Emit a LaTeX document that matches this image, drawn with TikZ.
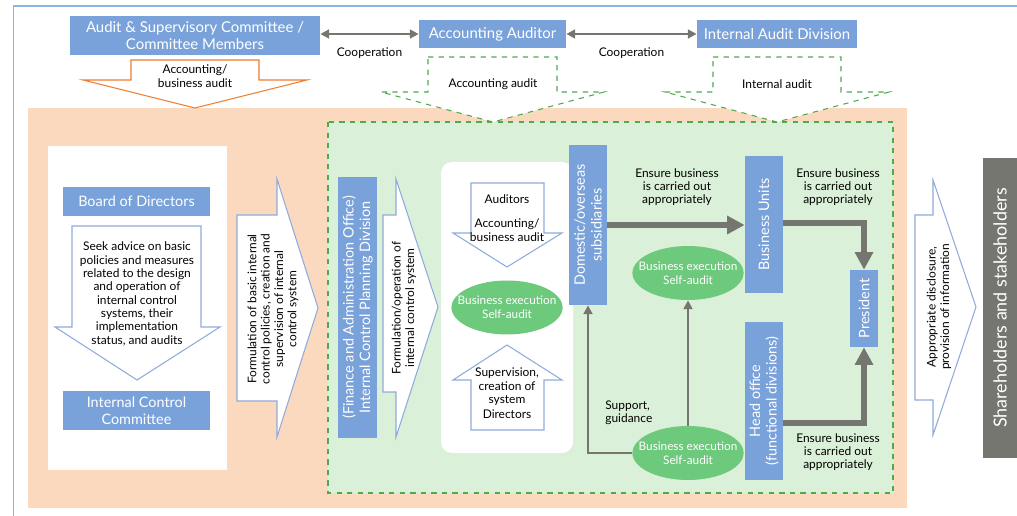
\documentclass[tikz,border=0pt]{standalone}
\usepackage{fontspec}
\setmainfont{Lato}
\usetikzlibrary{positioning, arrows.meta, shapes.geometric, calc}
\definecolor{icblue}{HTML}{7AA2DA}
\definecolor{icline}{HTML}{8FAADC}
\definecolor{icorange}{HTML}{FBD9BE}
\definecolor{icgreen}{HTML}{DAF0D8}
\definecolor{icdash}{HTML}{4FAA4F}
\definecolor{icell}{HTML}{6DC97B}
\definecolor{icgrey}{HTML}{767670}
\definecolor{icred}{HTML}{ED7D31}
\definecolor{icframe}{HTML}{8DB3E2}

\begin{document}
\begin{tikzpicture}[
    x=0.02cm, y=-0.02cm,
    every node/.style={font=\fontsize{6.8}{7.6}\selectfont, inner sep=0pt},
    bbox/.style={fill=icblue, text=white, align=center,
                 font=\fontsize{8.2}{9.4}\selectfont},
    lbl/.style={align=center},
    selfaudit/.style={ellipse, fill=icell, text=white, align=center,
                      inner xsep=-0.2cm, inner ysep=0pt,
                      font=\fontsize{6.7}{7.8}\selectfont,
                      minimum width=2.18cm, minimum height=1.08cm},
    blkarrow/.style={draw=icline, fill=white, line width=0.6pt},
    coop/.style={{Triangle[length=5pt,width=5pt]}-{Triangle[length=5pt,width=5pt]},
                 draw=icgrey, line width=1.6pt},
    flow/.style={-{Triangle[length=10pt,width=10pt]}, draw=icgrey, line width=3.4pt},
    support/.style={-{Triangle[length=5pt,width=5pt]}, draw=icgrey, line width=1.6pt},
  ]
  \useasboundingbox (0,0) rectangle (1017,516);
  \draw[icframe, line width=1pt] (13.5,516) -- (13.5,6) -- (1017,6);

  % backgrounds
  \fill[icorange] (28,108) rectangle (907,508);
  \fill[white] (48,146) rectangle (227,470);
  \draw[icdash, dashed, line width=0.6pt, fill=icgreen] (328,122) rectangle (893,493);
  \fill[white, rounded corners=0.22cm] (441,162) rectangle (573,453);

  % auditors on top
  \node[bbox, minimum width=5cm, minimum height=0.78cm,
        font=\fontsize{8.5}{9.5}\selectfont] (ascm) at (195,35.5)
    {Audit \& Supervisory Committee /\\Committee Members};
  \node[bbox, minimum width=2.94cm, minimum height=0.56cm,
        font=\fontsize{8.5}{9.5}\selectfont] (acca) at (492.5,34) {Accounting Auditor};
  \node[bbox, minimum width=3.2cm, minimum height=0.56cm,
        font=\fontsize{8.5}{9.5}\selectfont] (iad) at (777,34) {Internal Audit Division};

  \draw[coop] (ascm.east |- acca.west) -- (acca.west)
    node[midway, below=7pt] {Cooperation};
  \draw[coop] (acca.east) -- (iad.west)
    node[midway, below=7pt] {Cooperation};

  \draw[icred, fill=white, line width=0.6pt] (131,60) -- (259,60) -- (259,80) -- (307,80)
    -- (195,108) -- (83,80) -- (131,80) -- cycle;
  \node[lbl] (acbz) at (195,76) {Accounting/\\business audit};
  \draw[icdash, dashed, fill=white, line width=0.6pt] (428,57) -- (557,57) -- (557,92)
    -- (604,92) -- (493,122) -- (381,92) -- (428,92) -- cycle;
  \node[lbl] (acau) at (493,84) {Accounting audit};
  \draw[icdash, dashed, fill=white, line width=0.6pt] (713,57) -- (841,57) -- (841,92)
    -- (889,92) -- (777,122) -- (665,92) -- (713,92) -- cycle;
  \node[lbl] (inau) at (777,84) {Internal audit};

  % board and committee
  \node[bbox, minimum width=2.94cm, minimum height=0.58cm] (bod) at (136.5,201.5)
    {Board of Directors};
  \draw[blkarrow] (72,226) -- (201,226) -- (201,327) -- (220,327) -- (137,380)
    -- (55,327) -- (72,327) -- cycle;
  \node[lbl] (advice) at (137,294)
    {Seek advice on basic\\policies and measures\\related to the design\\and operation of\\
     internal control\\systems, their\\implementation\\status, and audits};
  \node[bbox, minimum width=2.94cm, minimum height=0.78cm] (icc) at (136.5,410.5)
    {Internal Control\\Committee};

  \draw[blkarrow] (237,215) -- (277,215) -- (277,179) -- (318,308) -- (277,437)
    -- (277,401) -- (237,401) -- cycle;
  \node[lbl, rotate=90] (basic) at (273,309)
    {Formulation of basic internal\\control policies, creation and\\supervision of internal\\control system};

  % planning division
  \node[bbox, rotate=90, minimum width=5.22cm, minimum height=0.78cm] (icpd) at (357.5,307.5)
    {(Finance and Administration Office)\\Internal Control Planning Division};
  \draw[blkarrow] (383,215) -- (396,215) -- (396,179) -- (438,307) -- (396,437)
    -- (396,392) -- (383,392) -- cycle;
  \node[lbl, rotate=90] (formop) at (404,308)
    {Formulation/operation of\\internal control system};

  % group companies panel
  \draw[blkarrow] (471,183) -- (544,183) -- (544,233) -- (562,233) -- (507,267)
    -- (453,233) -- (471,233) -- cycle;
  \node[lbl] (auds) at (507,199) {Auditors};
  \node[lbl] (audz) at (507,230) {Accounting/\\business audit};
  \node[selfaudit] (sa1) at (507,307.5) {Business execution\\Self-audit};
  \draw[blkarrow] (507,345) -- (562,380) -- (544,380) -- (544,430) -- (471,430)
    -- (471,380) -- (453,380) -- cycle;
  \node[lbl] (supv) at (507,387) {Supervision,\\creation of\\system};
  \node[lbl] (dirs) at (507,414) {Directors};

  % execution side
  \node[bbox, rotate=90, minimum width=3.2cm, minimum height=0.76cm] (dos) at (588,225)
    {Domestic/overseas\\subsidiaries};
  \node[bbox, rotate=90, minimum width=2.74cm, minimum height=0.76cm] (bu) at (764,224.5)
    {Business Units};
  \node[bbox, rotate=90, minimum width=1.54cm, minimum height=0.56cm] (pres) at (864,308.5)
    {President};
  \node[bbox, rotate=90, minimum width=3.16cm, minimum height=0.76cm] (ho) at (764,401)
    {Head office\\(functional divisions)};
  \node[selfaudit] (sa2) at (688,273) {Business execution\\Self-audit};
  \node[selfaudit] (sa3) at (688,453) {Business execution\\Self-audit};

  \draw[flow] (dos.south |- 0,225) -- (bu.north |- 0,225);
  \draw[flow] (bu.south |- 0,223) -| (pres.east);
  \draw[flow] (ho.south |- 0,423) -| (pres.west);
  \node[lbl] (ens1) at (677,187) {Ensure business\\is carried out\\appropriately};
  \node[lbl] (ens2) at (838,187) {Ensure business\\is carried out\\appropriately};
  \node[lbl] (ens3) at (838,452) {Ensure business\\is carried out\\appropriately};

  \draw[support] (sa3.west) -| (dos.west);
  \draw[support] (sa3.north) -- (sa2.south);
  \node[lbl, align=left, anchor=west] (supg) at (605,413) {Support,\\guidance};

  % disclosure
  \draw[blkarrow] (915,215) -- (933,215) -- (933,180) -- (976,307) -- (933,435)
    -- (933,400) -- (915,400) -- cycle;
  \node[lbl, rotate=90] (discl) at (939,307)
    {Appropriate disclosure,\\provision of information};
  \node[fill=icgrey, text=white, rotate=90, minimum width=6cm, minimum height=0.68cm,
        font=\fontsize{10.2}{11}\selectfont] (share) at (1000,308)
    {Shareholders and stakeholders};
\end{tikzpicture}
\end{document}
